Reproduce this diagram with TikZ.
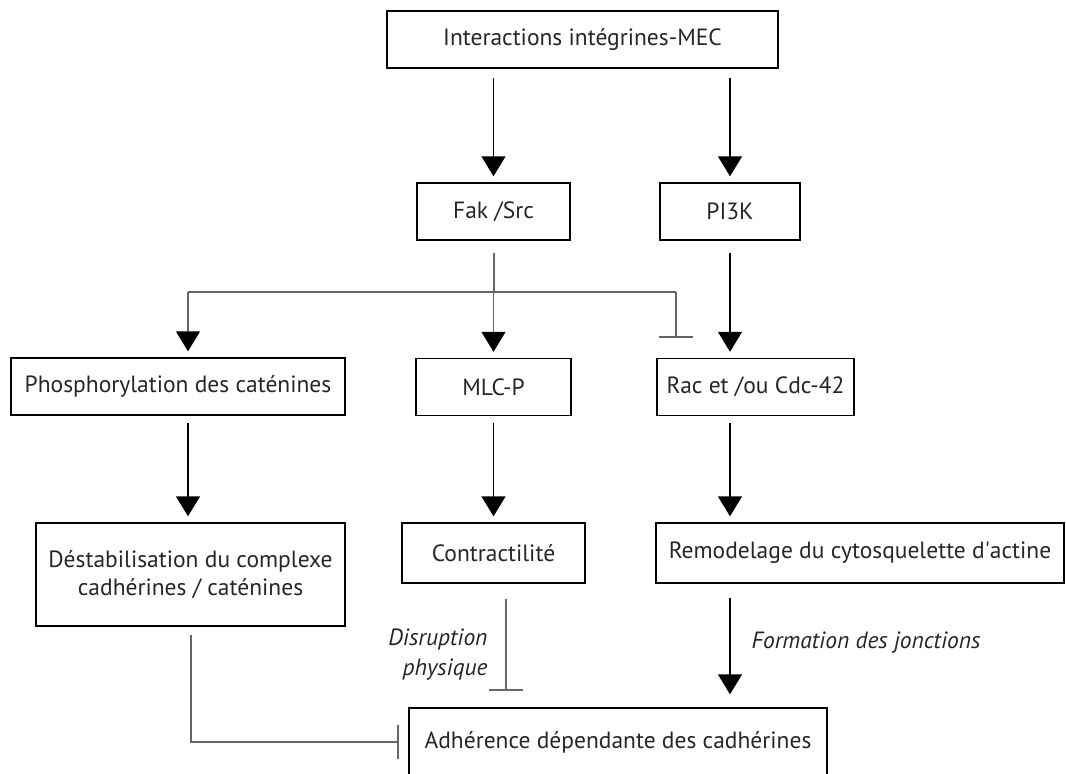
\documentclass[tikz,border=0pt]{standalone}
\usepackage{fontspec}
\setmainfont{PT Sans}
\usetikzlibrary{arrows.meta}
\definecolor{linegray}{gray}{0.4}
\definecolor{textgray}{gray}{0.15}

\tikzset{
  box/.style={draw, line width=1.4pt, minimum height=57pt, inner sep=4pt, text=textgray},
  arr/.style={-{Triangle[width=24pt,length=20pt,color=black]}, line width=1.4pt, shorten >=6pt},
  inhib/.style={-{Bar[width=34pt,line width=2.2pt]}, line width=2pt, linegray},
  lab/.style={font=\fontsize{23.5}{30}\selectfont\itshape, text=textgray}
}

\begin{document}
\begin{tikzpicture}[x=1pt,y=-1pt,font=\fontsize{23.5}{28.5}\selectfont]
		\useasboundingbox (0,0) rectangle (1066,774);

		\node[box, minimum width=391pt] (inter) at (582.5,39.5) {Interactions intégrines-MEC};
		\node[box, minimum width=153pt] (fak) at (493.5,211.5) {Fak /Src};
		\node[box, minimum width=140pt] (pik) at (730,211.5) {PI3K};

		\node[box, minimum width=334pt] (phos) at (178,386.5) {Phosphorylation des caténines};
		\node[box, minimum width=155pt] (mlc) at (493.5,387) {MLC-P};
		\node[box, minimum width=197pt] (rac) at (755.5,387) {Rac et /ou Cdc-42};

		\node[box, minimum width=309pt, minimum height=103pt, align=center] (dest) at (190.5,574.5) {Déstabilisation du complexe\\ cadhérines / caténines};
		\node[box, minimum width=183pt, minimum height=60pt] (contr) at (493.5,553) {Contractilité};
		\node[box, minimum width=408pt, minimum height=60pt] (remod) at (860,553) {Remodelage du cytosquelette d\textquotesingle actine};

		\node[box, minimum width=418pt, minimum height=68pt] (adh) at (618,742) {Adhérence dépendante des cadhérines};

		\coordinate (brL) at (188,292);
		\coordinate (brR) at (676,292);

		\draw[arr, shorten <=9pt] (inter.south -| fak.north) -- (fak.north);
		\draw[arr, shorten <=9pt] (inter.south -| pik.north) -- (pik.north);

		\draw[line width=2pt, linegray, shorten <=12pt] (fak.south) -- (fak.south |- brL);
		\draw[line width=2pt, linegray] (brL) -- (brR);
		\draw[arr, linegray] (fak.south |- brL) -- (mlc.north);
		\draw[arr, linegray] (brL) -- (brL |- phos.north);
		\draw[inhib, shorten >=0pt] (brR) -- ++(0,46);
		\draw[arr, shorten <=12pt] (pik.south) -- (pik.south |- rac.north);

		\draw[arr, shorten <=7pt] (brL |- phos.south) -- (brL |- dest.north);
		\draw[arr, shorten <=7pt] (mlc.south) -- (mlc.north |- contr.north);
		\draw[arr, shorten <=7pt] (pik.south |- rac.south) -- (pik.south |- remod.north);

		\draw[inhib, shorten <=15pt] ([xshift=12pt]contr.south) -- ([xshift=12pt,yshift=16pt]contr.south |- adh.north);
		\draw[arr, shorten <=14pt, shorten >=13pt] (pik.south |- remod.south) -- (pik.south |- adh.north);
		\draw[inhib, shorten <=8pt, shorten >=9pt] (dest.south) |- (adh.west);

		\node[lab, align=right, anchor=east] (disr) at (491,655) {Disruption\\physique};
		\node[lab, anchor=west] (form) at (748,643) {Formation des jonctions};
\end{tikzpicture}
\end{document}
